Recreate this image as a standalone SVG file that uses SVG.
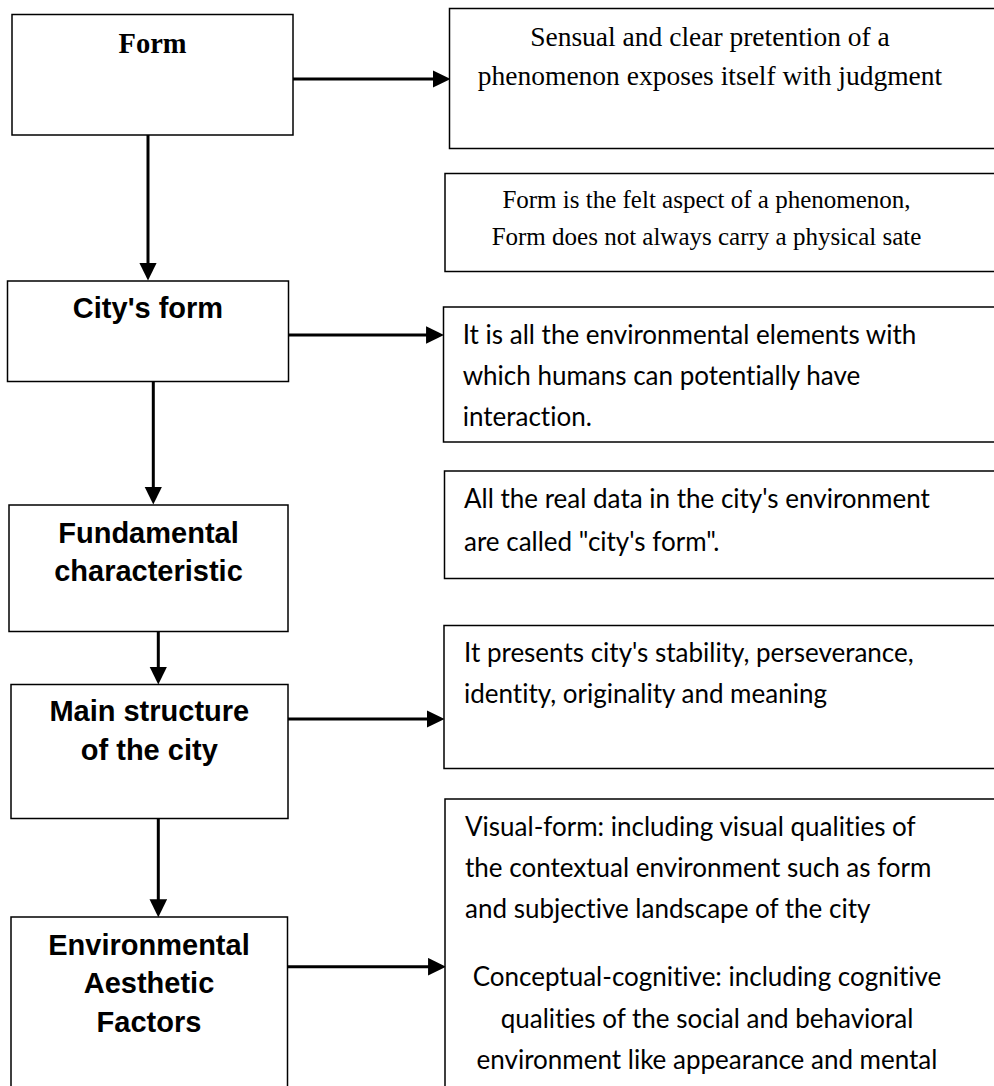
<svg xmlns="http://www.w3.org/2000/svg" width="994" height="1086" viewBox="0 0 994 1086">
<defs>
<style>
.box{fill:#fff;stroke:#000;stroke-width:1.5}
.con{stroke:#000;stroke-width:3;fill:none;marker-end:url(#ah)}
.tb{font-family:"Liberation Serif",serif;font-weight:bold;font-size:28.5px;fill:#000;text-anchor:middle}
.ts{font-family:"Liberation Serif",serif;font-size:27.5px;fill:#000;text-anchor:middle}
.ts2{font-family:"Liberation Serif",serif;font-size:25px;fill:#000;text-anchor:middle}
.hb{font-family:"Liberation Sans",Arial,sans-serif;font-weight:bold;font-size:29px;fill:#000;text-anchor:middle}
.cb{font-family:Lato,"Open Sans",sans-serif;font-size:26px;fill:#000;font-variant-ligatures:none}
.cc{font-family:Lato,"Open Sans",sans-serif;font-size:26px;fill:#000;text-anchor:middle;font-variant-ligatures:none}
</style>
<marker id="ah" markerUnits="userSpaceOnUse" markerWidth="18" markerHeight="18" viewBox="0 0 17 16.6" refX="7" refY="8.3" orient="auto">
<path d="M0,0 L17,8.3 L0,16.6 z" fill="#000"/>
</marker>
</defs>
<rect width="994" height="1086" fill="#fff"/>
<g id="connectors">
<line class="con" x1="293" y1="79" x2="440" y2="79"/>
<line class="con" x1="148" y1="135" x2="148" y2="270"/>
<line class="con" x1="287" y1="335" x2="433.5" y2="335"/>
<line class="con" x1="153.3" y1="381.7" x2="153.3" y2="494"/>
<line class="con" x1="158.3" y1="631.7" x2="158.3" y2="674"/>
<line class="con" x1="287" y1="719" x2="434" y2="719"/>
<line class="con" x1="158.3" y1="818.3" x2="158.3" y2="906.7"/>
<line class="con" x1="287.3" y1="966.7" x2="435.5" y2="966.7"/>
</g>
<g id="form">
<rect class="box" x="12" y="14.5" width="281" height="120.5"/>
<text class="tb" x="152.5" y="52.7">Form</text>
</g>
<g id="form-desc1">
<rect class="box" x="449.5" y="8.5" width="560" height="140"/>
<text class="ts" x="710" y="45.7">Sensual and clear pretention of a</text>
<text class="ts" x="710" y="85">phenomenon exposes itself with judgment</text>
</g>
<g id="form-desc2">
<rect class="box" x="445" y="173.5" width="560" height="98"/>
<text class="ts2" x="706.5" y="208.3">Form is the felt aspect of a phenomenon,</text>
<text class="ts2" x="706.5" y="245">Form does not always carry a physical sate</text>
</g>
<g id="city-form">
<rect class="box" x="7.5" y="281" width="281" height="100.5"/>
<text class="hb" x="148" y="317.7">City's form</text>
</g>
<g id="city-desc1">
<rect class="box" x="443.5" y="307" width="560" height="135"/>
<text class="cb" x="462.7" y="344.3">It is all the environmental elements with</text>
<text class="cb" x="462.7" y="385">which humans can potentially have</text>
<text class="cb" x="462.7" y="426">interaction.</text>
</g>
<g id="city-desc2">
<rect class="box" x="444.5" y="471" width="560" height="107.5"/>
<text class="cb" x="464" y="508.3">All the real data in the city's environment</text>
<text class="cb" x="464" y="551">are called "city's form".</text>
</g>
<g id="fundamental">
<rect class="box" x="9" y="505" width="279" height="126.5"/>
<text class="hb" x="148.5" y="542.7">Fundamental</text>
<text class="hb" x="148.5" y="581">characteristic</text>
</g>
<g id="main-desc">
<rect class="box" x="444" y="625.5" width="560" height="143"/>
<text class="cb" x="464" y="661.7">It presents city's stability, perseverance,</text>
<text class="cb" x="464" y="703.3">identity, originality and meaning</text>
</g>
<g id="main-structure">
<rect class="box" x="11" y="684.5" width="277" height="134"/>
<text class="hb" x="149.3" y="721">Main structure</text>
<text class="hb" x="149.3" y="760">of the city</text>
</g>
<g id="env-desc">
<rect class="box" x="445" y="799" width="560" height="320"/>
<text class="cb" x="465" y="835.7">Visual-form: including visual qualities of</text>
<text class="cb" x="465" y="877.3">the contextual environment such as form</text>
<text class="cb" x="465" y="918.3">and subjective landscape of the city</text>
<text class="cc" x="707" y="986">Conceptual-cognitive: including cognitive</text>
<text class="cc" x="707" y="1028.3">qualities of the social and behavioral</text>
<text class="cc" x="707" y="1069.3">environment like appearance and mental</text>
</g>
<g id="env-factors">
<rect class="box" x="11" y="917" width="276.5" height="220"/>
<text class="hb" x="149" y="955">Environmental</text>
<text class="hb" x="149" y="993.3">Aesthetic</text>
<text class="hb" x="149" y="1031.7">Factors</text>
</g>
</svg>
